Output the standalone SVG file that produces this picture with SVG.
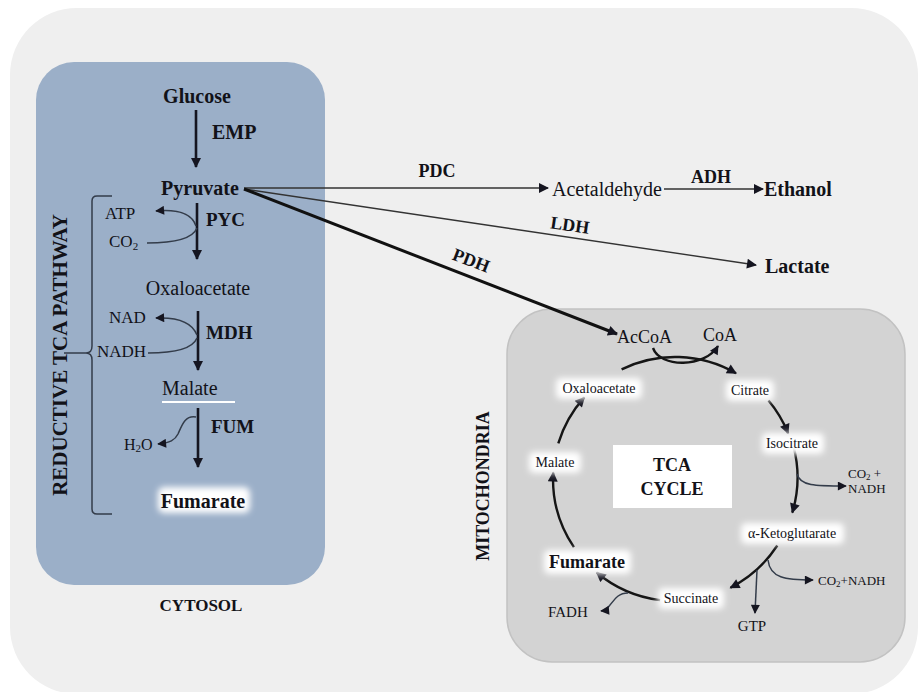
<svg xmlns="http://www.w3.org/2000/svg" width="922" height="692" viewBox="0 0 922 692" font-family="'Liberation Serif','Times New Roman','DejaVu Serif',serif">
<style>
text{font-family:"Liberation Serif","Times New Roman","DejaVu Serif",serif;fill:#121218}
.b{font-weight:bold}
.c{text-anchor:middle}
.main{stroke:#151520;stroke-width:2.6;fill:none}
.thin{stroke:#333;stroke-width:1.4;fill:none}
.side{stroke:#333c4a;stroke-width:1.5;fill:none}
.cyc{stroke:#151515;stroke-width:2.4;fill:none}
.glow{fill:#fff;filter:url(#blur)}
</style>
<defs>
<filter id="blur" x="-30%" y="-60%" width="160%" height="220%"><feGaussianBlur stdDeviation="3"/></filter>
<marker id="ah" viewBox="0 0 10 10" refX="9" refY="5" markerWidth="12" markerHeight="10" markerUnits="userSpaceOnUse" orient="auto"><path d="M0,0 L10,5 L0,10 z" fill="#151520"/></marker>
<marker id="ahs" viewBox="0 0 10 10" refX="9" refY="5" markerWidth="11" markerHeight="9" markerUnits="userSpaceOnUse" orient="auto"><path d="M0,0 L10,5 L0,10 z" fill="#151520"/></marker>
</defs>

<g id="background">
<rect x="10" y="8" width="908" height="686" rx="67" fill="#efefef"/>
</g>
<g id="cytosol">
<rect x="36" y="62" width="289" height="523" rx="38" fill="#9bafc8"/>
<text x="201" y="611" class="b c" font-size="17">CYTOSOL</text>
</g>
<g id="mitochondria">
<rect x="507" y="309" width="398" height="353" rx="45" fill="#d3d3d3" stroke="#c2c2c2" stroke-width="1.5"/>
<text transform="translate(489,486) rotate(-90)" class="b c" font-size="18">MITOCHONDRIA</text>
</g>

<g id="pathway-label">
<path class="side" d="M112,196 L97,196 Q92,196 92,201 L92,346 Q92,353 86,353 L64,353 M86,353 Q92,353 92,360 L92,509 Q92,514 97,514 L112,514"/>
<text transform="translate(67,355) rotate(-90)" class="b c" font-size="21">REDUCTIVE TCA PATHWAY</text>
</g>

<g id="connectors">
<line class="main" x1="196" y1="110" x2="196" y2="167" marker-end="url(#ah)"/>
<line class="main" x1="197" y1="203" x2="197" y2="259" marker-end="url(#ah)"/>
<line class="main" x1="198" y1="311" x2="198" y2="370" marker-end="url(#ah)"/>
<line class="main" x1="198" y1="408" x2="198" y2="467" marker-end="url(#ah)"/>
<path class="side" d="M196,226 C192,214 180,209 156,211" marker-end="url(#ahs)"/>
<path class="side" d="M147,243 C175,243 193,238 197,228"/>
<path class="side" d="M197,335 C192,322 178,317 156,318" marker-end="url(#ahs)"/>
<path class="side" d="M148,353 C175,353 193,348 197,338"/>
<path class="side" d="M196,417 C185,415 182,425 178,434 C175,440 170,443 158,444" marker-end="url(#ahs)"/>
<line class="thin" x1="244" y1="188" x2="548" y2="188" marker-end="url(#ah)"/>
<line class="thin" x1="664" y1="189" x2="763" y2="189" marker-end="url(#ah)"/>
<line class="thin" x1="244" y1="189" x2="756" y2="265" marker-end="url(#ah)"/>
<line stroke="#111" stroke-width="3" x1="244" y1="189" x2="617" y2="334" marker-end="url(#ah)"/>
<path class="cyc" d="M653,348 C660,368 705,368 718,346" marker-end="url(#ahs)"/>
<path class="cyc" d="M621.6,369.3 A122,122 0 0 1 736,373.3" marker-end="url(#ah)"/>
<path class="cyc" d="M768.5,400.6 A122,122 0 0 1 788.1,433.3" marker-end="url(#ah)"/>
<path class="cyc" d="M793.4,446 A122,122 0 0 1 792.3,512.6" marker-end="url(#ah)"/>
<path class="side" d="M797,474 C800,486 815,486 846,486" marker-end="url(#ahs)"/>
<path class="cyc" d="M777.3,545.5 A122,122 0 0 1 730.4,587.7" marker-end="url(#ah)"/>
<path class="side" d="M757,570 L755,613" marker-end="url(#ahs)"/>
<path class="side" d="M768,560 C770,578 785,580 813,580" marker-end="url(#ahs)"/>
<path class="cyc" d="M660.1,600.1 A122,122 0 0 1 596.6,572.5" marker-end="url(#ah)"/>
<path class="side" d="M628,593 C612,593 612,610 601,611" marker-end="url(#ahs)"/>
<path class="cyc" d="M573.9,547.2 A122,122 0 0 1 553.2,472.6" marker-end="url(#ah)"/>
<path class="cyc" d="M558.3,443.3 A122,122 0 0 1 584.3,397.4" marker-end="url(#ah)"/>
</g>

<g id="glucose"><text x="197" y="103" class="b c" font-size="20">Glucose</text></g>
<g id="emp"><text x="212" y="139" class="b" font-size="20">EMP</text></g>
<g id="pyruvate"><text x="200" y="195" class="b c" font-size="20">Pyruvate</text></g>
<g id="atp"><text x="105" y="219" font-size="17">ATP</text></g>
<g id="co2"><text x="109" y="247" font-size="17">CO<tspan font-size="11" dy="3">2</tspan></text></g>
<g id="pyc"><text x="206" y="226" class="b" font-size="19">PYC</text></g>
<g id="oxaloacetate"><text x="198" y="295" class="c" font-size="20">Oxaloacetate</text></g>
<g id="nad"><text x="109" y="323" font-size="17">NAD</text></g>
<g id="nadh"><text x="97" y="357" font-size="17">NADH</text></g>
<g id="mdh"><text x="206" y="339" class="b" font-size="19">MDH</text></g>
<g id="malate"><text x="162" y="395" font-size="20">Malate</text><line x1="162" y1="402" x2="235" y2="402" stroke="#fff" stroke-width="2"/></g>
<g id="fum"><text x="211" y="433" class="b" font-size="19">FUM</text></g>
<g id="h2o"><text x="124" y="450" font-size="16">H<tspan font-size="11" dy="2">2</tspan><tspan dy="-2">O</tspan></text></g>
<g id="fumarate-cyt"><rect class="glow" x="158" y="487" width="92" height="26" rx="6"/><text x="203" y="508" class="b c" font-size="20">Fumarate</text></g>

<g id="pdc"><text x="437" y="177" class="b c" font-size="18">PDC</text></g>
<g id="acetaldehyde"><text x="552" y="196" font-size="20">Acetaldehyde</text></g>
<g id="adh"><text x="711" y="183" class="b c" font-size="18">ADH</text></g>
<g id="ethanol"><text x="764" y="196" class="b" font-size="20">Ethanol</text></g>
<g id="ldh"><text transform="translate(569,231) rotate(8.4)" class="b c" font-size="18">LDH</text></g>
<g id="lactate"><text x="765" y="273" class="b" font-size="20">Lactate</text></g>
<g id="pdh"><text transform="translate(469,266) rotate(21)" class="b c" font-size="18">PDH</text></g>

<g id="accoa"><text x="617" y="343" font-size="18">AcCoA</text></g>
<g id="coa"><text x="703" y="341" font-size="18">CoA</text></g>
<g id="tca"><rect x="613" y="445" width="119" height="63" fill="#fff"/><text x="672" y="471" class="b c" font-size="18">TCA</text><text x="672" y="495" class="b c" font-size="18">CYCLE</text></g>
<g id="oxaloacetate-m"><rect class="glow" x="556" y="378" width="86" height="21" rx="5"/><text x="599" y="393" class="c" font-size="14">Oxaloacetate</text></g>
<g id="citrate"><rect class="glow" x="726" y="380" width="48" height="21" rx="5"/><text x="750" y="395" class="c" font-size="14">Citrate</text></g>
<g id="isocitrate"><rect class="glow" x="762" y="433" width="62" height="21" rx="5"/><text x="792" y="448" class="c" font-size="14">Isocitrate</text></g>
<g id="akg"><rect class="glow" x="741" y="523" width="103" height="21" rx="5"/><text x="792" y="538" class="c" font-size="14">α-Ketoglutarate</text></g>
<g id="succinate"><rect class="glow" x="658" y="588" width="66" height="21" rx="5"/><text x="691" y="603" class="c" font-size="14">Succinate</text></g>
<g id="fumarate-m"><rect class="glow" x="544" y="550" width="87" height="24" rx="5"/><text x="587" y="568" class="b c" font-size="18">Fumarate</text></g>
<g id="malate-m"><rect class="glow" x="529" y="452" width="52" height="21" rx="5"/><text x="555" y="467" class="c" font-size="14">Malate</text></g>
<g id="co2nadh1"><text x="848" y="478" font-size="13">CO<tspan font-size="9" dy="2">2</tspan><tspan dy="-2"> +</tspan></text><text x="848" y="493" font-size="13">NADH</text></g>
<g id="co2nadh2"><text x="818" y="585" font-size="13">CO<tspan font-size="9" dy="2">2</tspan><tspan dy="-2">+NADH</tspan></text></g>
<g id="gtp"><text x="752" y="631" class="c" font-size="15">GTP</text></g>
<g id="fadh"><text x="548" y="617" font-size="15">FADH</text></g>
</svg>
